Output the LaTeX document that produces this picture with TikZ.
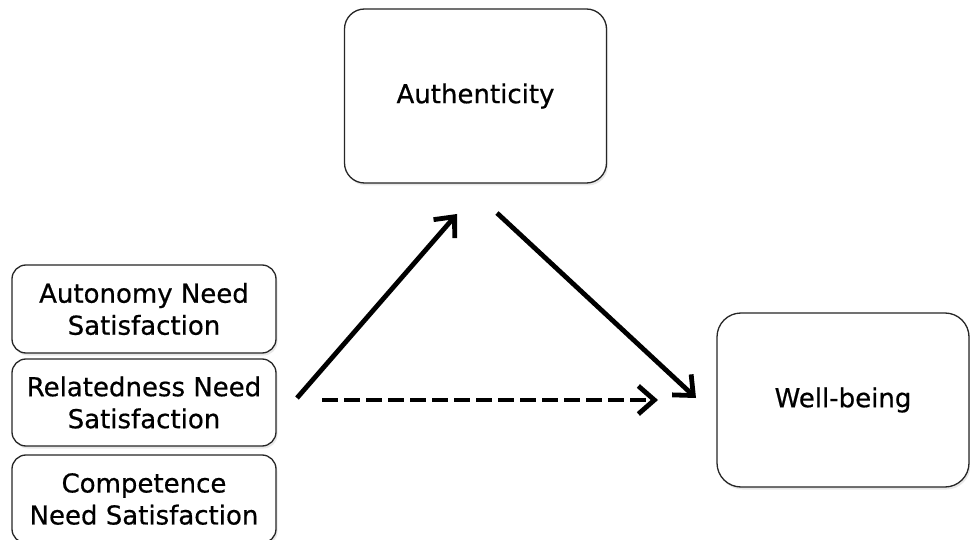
\documentclass[tikz,border=0pt]{standalone}
\usepackage{fontspec}
\setmainfont{DejaVu Sans}
\newfontfamily\lblfont[FakeBold=0.6]{DejaVu Sans}
\usetikzlibrary{arrows.meta,shadows}
\tikzset{
  box/.style={draw=black!85, line width=1.3pt, rounded corners=20pt, fill=white, align=center,
    drop shadow={opacity=0.18, shadow xshift=1.5pt, shadow yshift=-2.5pt},
    font=\lblfont\fontsize{26}{32}\selectfont, text=black},
  smallbox/.style={box, rounded corners=14pt, minimum width=264pt, inner sep=0pt},
  conn/.style={line width=4.8pt, -{Straight Barb[length=16pt, width=28pt]}},
  dconn/.style={conn, dash pattern=on 16pt off 6pt}
}
\begin{document}
\begin{tikzpicture}[x=1pt,y=-1pt]
\useasboundingbox (0,0) rectangle (970,540);
% boxes
\node[box, minimum width=262pt, minimum height=174pt] (auth) at (475.5,96) {Authenticity};
\node[box, minimum width=252pt, minimum height=174pt, rounded corners=24pt] (wb) at (843,400) {Well-being};
\node[smallbox, minimum height=88pt] (aut) at (144,309) {Autonomy Need\\Satisfaction};
\node[smallbox, minimum height=87pt] (rel) at (144,402.5) {Relatedness Need\\Satisfaction};
\node[smallbox, minimum height=88pt] (com) at (144,499) {Competence\\Need Satisfaction};
% connector ends
\coordinate (s1) at (297,398);
\coordinate (e1) at (457,214);
\coordinate (s2) at (497,213);
\coordinate (e2) at (696,398);
\coordinate (s3) at (322,400);
\coordinate (e3) at (658,400);
\draw[conn] (s1) -- (e1);
\draw[conn] (s2) -- (e2);
\draw[dconn] (s3) -- (e3);
\end{tikzpicture}
\end{document}
